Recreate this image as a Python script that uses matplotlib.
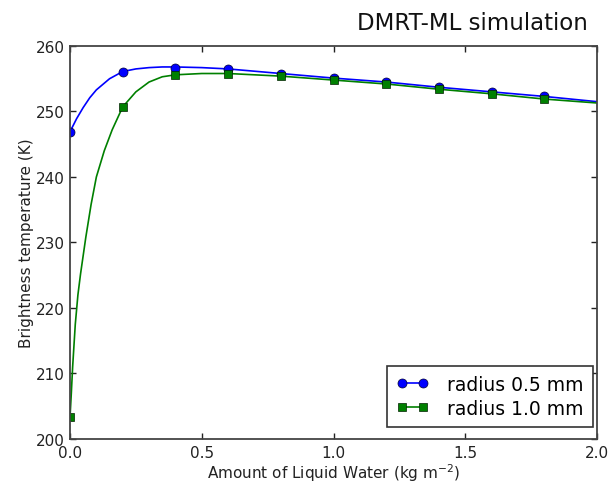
import matplotlib
matplotlib.use("Agg")
import matplotlib.pyplot as plt
from matplotlib.lines import Line2D

# marker positions (kg m-2) and brightness temperatures (K)
marker_x = [0.0, 0.2, 0.4, 0.6, 0.8, 1.0, 1.2, 1.4, 1.6, 1.8]
tb_r05_markers = [246.9, 256.1, 256.7, 256.5, 255.8, 255.1, 254.5, 253.7, 253.0, 252.3]
tb_r10_markers = [203.3, 250.7, 255.6, 255.8, 255.4, 254.8, 254.2, 253.4, 252.7, 251.9]

# fine curves
r05_curve_x = [0.0, 0.025, 0.05, 0.075, 0.1, 0.15, 0.2, 0.25, 0.3, 0.35, 0.4,
               0.5, 0.6, 0.8, 1.0, 1.2, 1.4, 1.6, 1.8, 2.0]
r05_curve_y = [246.9, 248.9, 250.6, 252.1, 253.3, 255.0, 256.1, 256.5, 256.7, 256.8, 256.8,
               256.7, 256.5, 255.8, 255.1, 254.5, 253.7, 253.0, 252.3, 251.5]

r10_curve_x = [0.0, 0.005, 0.01, 0.02, 0.03, 0.04, 0.06, 0.08, 0.1, 0.13, 0.16, 0.2,
               0.25, 0.3, 0.35, 0.4, 0.5, 0.6, 0.8, 1.0, 1.2, 1.4, 1.6, 1.8, 2.0]
r10_curve_y = [203.3, 207.0, 211.0, 217.5, 222.0, 225.2, 230.8, 235.8, 240.0, 244.0, 247.2, 250.7,
               253.0, 254.5, 255.3, 255.6, 255.8, 255.8, 255.4, 254.8, 254.2, 253.4, 252.7, 251.9, 251.3]

labels = ["radius 0.5 mm", "radius 1.0 mm"]
colors = ["#0000ff", "#008000"]

fig = plt.figure(figsize=(6.13, 4.85), dpi=100)
ax = fig.add_axes([0.1142, 0.0928, 0.8597, 0.8103])

ax.plot(r05_curve_x, r05_curve_y, color=colors[0], lw=1.2)
ax.plot(marker_x, tb_r05_markers, ls="none", marker="o", ms=6.5,
        color=colors[0], mec="#000033", mew=0.5)
ax.plot(r10_curve_x, r10_curve_y, color=colors[1], lw=1.2)
ax.plot(marker_x, tb_r10_markers, ls="none", marker="s", ms=6,
        color=colors[1], mec="#002000", mew=0.5)

ax.set_xlim(0, 2.0)
ax.set_ylim(200, 260)
ax.set_xticks([0.0, 0.5, 1.0, 1.5, 2.0])
ax.set_yticks([200, 210, 220, 230, 240, 250, 260])
ax.tick_params(direction="in", top=True, right=True, length=4, width=1,
               labelsize=11, colors="#222222", pad=4)
for sp in ax.spines.values():
    sp.set_color("#444444")
    sp.set_linewidth(1.3)

ax.set_xlabel("Amount of Liquid Water (kg m$^{-2}$)", fontsize=11, color="#222222", labelpad=1)
ax.set_ylabel("Brightness temperature (K)", fontsize=11, color="#222222", labelpad=1)

handles = [
    Line2D([], [], color=colors[0], lw=1.2, marker="o", ms=6.5, mec="#000033", mew=0.5),
    Line2D([], [], color=colors[1], lw=1.2, marker="s", ms=6, mec="#002000", mew=0.5),
]
leg = ax.legend(handles, labels, loc="lower right", bbox_to_anchor=(0.9924, 0.0305),
                borderaxespad=0, numpoints=2, fontsize=13.5, handlelength=1.7,
                fancybox=False, framealpha=1, edgecolor="#333333",
                borderpad=0.5, labelspacing=0.25, handletextpad=1.0)
leg.get_frame().set_linewidth(1.2)

fig.text(588 / 613, 1 - 30 / 485, "DMRT-ML simulation", fontsize=16.5,
         ha="right", va="baseline", color="#111111")

fig.savefig("out.png", dpi=100)
